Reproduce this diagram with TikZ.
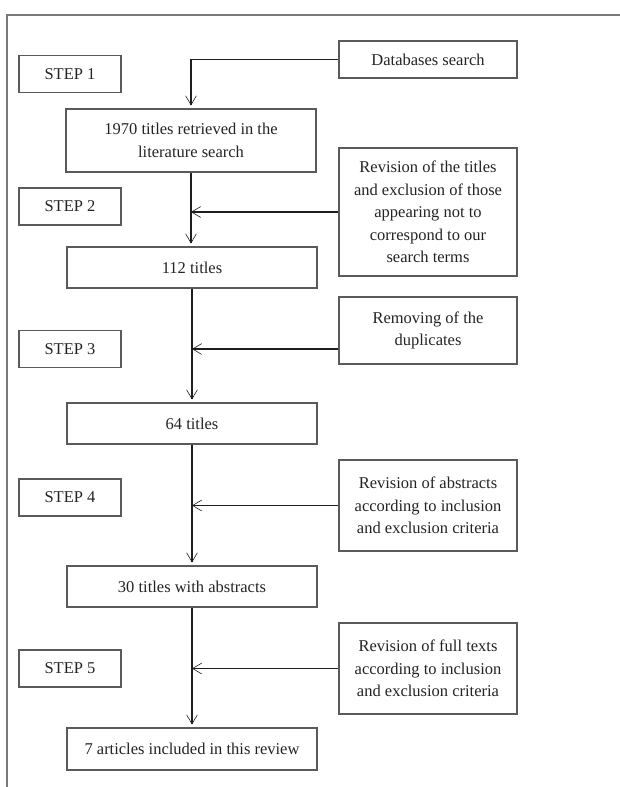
\documentclass[tikz,border=0pt]{standalone}
\usepackage{fontspec}
\setmainfont{Liberation Serif}
\usetikzlibrary{arrows.meta,positioning,calc}
\definecolor{boxedge}{RGB}{90,90,90}
\definecolor{frameedge}{RGB}{120,120,120}
\definecolor{textdark}{RGB}{35,35,35}
\definecolor{arrowdark}{RGB}{30,30,30}

\begin{document}
\begin{tikzpicture}[
  x=1pt,y={(0pt,-1pt)},
  font=\fontsize{16.5}{22.5}\selectfont,
  text=textdark,
  arrow/.style={-{Straight Barb[length=3.2mm,width=3.8mm,line width=0.6pt]},line width=1.1pt,draw=arrowdark},
  frame/.style={draw=frameedge,line width=1.1pt},
  stepbox/.style={draw=boxedge,line width=1.1pt,minimum width=102pt,minimum height=37pt,inner sep=2pt},
  countbox/.style={draw=boxedge,line width=1.1pt,minimum width=250pt,align=center,inner sep=2pt},
  actionbox/.style={draw=boxedge,line width=1.1pt,minimum width=178pt,align=center,inner sep=2pt}
]
\useasboundingbox (0,0) rectangle (620,787);

% Outer frame, only the top and left edges are visible.
\draw[frame] (7,787) -- (7,15) -- (620,15);

% -------------------------------------------------------------------------
% Step labels on the left.
% -------------------------------------------------------------------------
\node[stepbox] (step1) at (70,74) {STEP 1};
\node[stepbox] (step2) at (70,206.5) {STEP 2};
\node[stepbox] (step3) at (70,349) {STEP 3};
\node[stepbox] (step4) at (70,497.5) {STEP 4};
\node[stepbox] (step5) at (70,668.5) {STEP 5};

% -------------------------------------------------------------------------
% Main lane: what remains after each step.
% -------------------------------------------------------------------------
\node[countbox,minimum height=63pt] (retrieved) at (191,140.5)
  {1970 titles retrieved in the\\literature search};
\node[countbox,minimum height=41pt] (titlesA) at (192,267.5) {112 titles};
\node[countbox,minimum height=41pt] (titlesB) at (192,423.5) {64 titles};
\node[countbox,minimum height=41pt] (abstracts) at (192,586.5) {30 titles with abstracts};
\node[countbox,minimum height=42pt] (included) at (192,749) {7 articles included in this review};
\foreach \a/\b in {retrieved/titlesA,titlesA/titlesB,titlesB/abstracts,abstracts/included}
  {\draw[arrow,shorten >=3pt] (\a.south) -- (\a.south |- \b.north);}

% -------------------------------------------------------------------------
% Right lane: what is done at each step.
% -------------------------------------------------------------------------
\node[actionbox,minimum height=37pt] (dbsearch) at (428,59.5) {Databases search};
\node[actionbox,minimum height=128pt] (revtitles) at (428,212)
  {Revision of the titles\\and exclusion of those\\appearing not to\\correspond to our\\search terms};
\node[actionbox,minimum height=67pt] (duplicates) at (428,330.5)
  {Removing of the\\duplicates};
\node[actionbox,minimum height=91pt] (revabs) at (428,505.5)
  {Revision of abstracts\\according to inclusion\\and exclusion criteria};
\node[actionbox,minimum height=91pt] (revfull) at (428,668.5)
  {Revision of full texts\\according to inclusion\\and exclusion criteria};

\draw[arrow,shorten >=3pt] (dbsearch.west) -| (retrieved.north);
\draw[arrow] (revtitles.west) -- (revtitles.west -| retrieved.south);
\draw[arrow] (duplicates.west |- step3.east) -- (step3.east -| titlesA.south);
\draw[arrow] (revabs.west) -- (revabs.west -| titlesB.south);
\draw[arrow] (revfull.west) -- (revfull.west -| abstracts.south);
\end{tikzpicture}
\end{document}
